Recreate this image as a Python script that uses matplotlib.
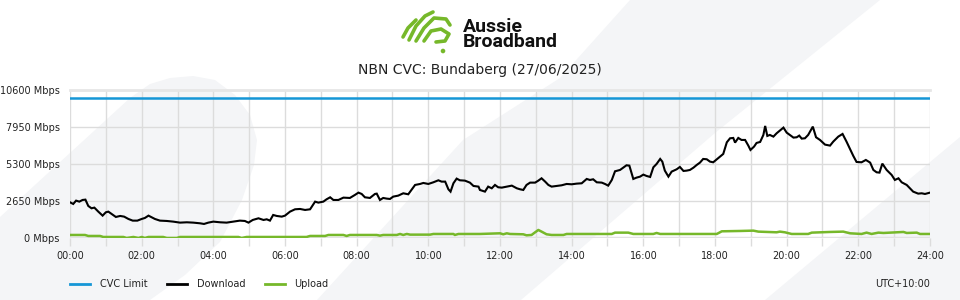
import matplotlib
matplotlib.use("Agg")
import matplotlib.pyplot as plt
from matplotlib.patches import Polygon, PathPatch, Circle
from matplotlib.path import Path
from matplotlib.transforms import Affine2D
from matplotlib.ticker import FixedLocator, FuncFormatter

# ---------------- data ----------------
title = "NBN CVC: Bundaberg (27/06/2025)"
cvc_limit = 10000
y_ticks = [0, 2650, 5300, 7950, 10600]
x_tick_hours = list(range(0, 25, 2))

dl_hours = [0.00, 0.09, 0.17, 0.26, 0.35, 0.43, 0.51, 0.60, 0.68, 0.79, 0.91, 1.00, 1.07, 1.16,
            1.28, 1.40, 1.51, 1.63, 1.75, 1.88, 2.00, 2.09, 2.19, 2.28, 2.37, 2.51, 2.70, 2.88,
            3.07, 3.26, 3.44, 3.63, 3.74, 3.86, 4.00, 4.19, 4.37, 4.56, 4.74, 4.88, 4.98, 5.10,
            5.26, 5.40, 5.49, 5.58, 5.67, 5.77, 5.91, 6.00, 6.14, 6.28, 6.42, 6.56, 6.70, 6.84,
            6.93, 7.07, 7.16, 7.26, 7.35, 7.49, 7.63, 7.81, 7.95, 8.05, 8.14, 8.23, 8.37, 8.51,
            8.56, 8.65, 8.74, 8.84, 8.93, 9.02, 9.16, 9.30, 9.44, 9.63, 9.77, 9.86, 10.00, 10.14,
            10.28, 10.37, 10.47, 10.56, 10.62, 10.70, 10.79, 10.88, 11.02, 11.16, 11.26, 11.40,
            11.44, 11.58, 11.67, 11.77, 11.86, 11.95, 12.05, 12.19, 12.33, 12.47, 12.56, 12.65,
            12.74, 12.84, 12.98, 13.07, 13.16, 13.26, 13.35, 13.44, 13.58, 13.72, 13.86, 14.00,
            14.14, 14.28, 14.42, 14.51, 14.60, 14.70, 14.84, 14.93, 15.02, 15.12, 15.21, 15.35,
            15.44, 15.53, 15.61, 15.72, 15.81, 15.91, 16.00, 16.09, 16.19, 16.28, 16.37, 16.47,
            16.53, 16.60, 16.70, 16.79, 16.93, 17.02, 17.12, 17.21, 17.30, 17.40, 17.49, 17.58,
            17.67, 17.77, 17.86, 17.95, 18.05, 18.14, 18.23, 18.33, 18.42, 18.51, 18.56, 18.65,
            18.74, 18.84, 18.93, 18.99, 19.09, 19.16, 19.26, 19.35, 19.40, 19.46, 19.53, 19.63,
            19.72, 19.81, 19.91, 20.00, 20.09, 20.19, 20.28, 20.35, 20.42, 20.51, 20.60, 20.73,
            20.82, 20.93, 21.07, 21.21, 21.30, 21.44, 21.56, 21.67, 21.77, 21.86, 21.95, 22.09,
            22.21, 22.33, 22.42, 22.51, 22.59, 22.67, 22.79, 22.93, 23.02, 23.12, 23.21, 23.35,
            23.44, 23.53, 23.67, 23.77, 23.86, 24.00]
dl_mbps = [2574, 2454, 2693, 2621, 2740, 2764, 2312, 2145, 2192, 1906, 1620, 1859, 1906, 1740,
           1525, 1597, 1549, 1382, 1263, 1263, 1382, 1454, 1620, 1501, 1382, 1263, 1239, 1192,
           1120, 1144, 1120, 1072, 1025, 1120, 1192, 1144, 1120, 1192, 1263, 1239, 1120, 1311,
           1430, 1311, 1358, 1263, 1668, 1597, 1549, 1620, 1906, 2073, 2097, 2026, 2073, 2621,
           2550, 2621, 2788, 2931, 2740, 2740, 2907, 2883, 3098, 3265, 3169, 2931, 2883, 3169,
           3193, 2740, 2883, 2836, 2812, 2979, 3050, 3217, 3146, 3813, 3884, 3956, 3884, 4003,
           4146, 4051, 4051, 3503, 3336, 3932, 4266, 4146, 4123, 3980, 3741, 3694,
           3455, 3336, 3694, 3574, 3813, 3646, 3622, 3694, 3765, 3574, 3503, 3455,
           3813, 3980, 3980, 4122, 4289, 4051, 3813, 3694, 3741, 3789, 3884, 3860,
           3908, 3932, 4242, 4170, 4218, 4003, 3980, 3884, 3765, 4170, 4790, 4885,
           5052, 5219, 5195, 4242, 4337, 4409, 4552, 4456, 4385, 5076, 5314, 5672,
           5481, 4838, 4409, 4766, 4933, 5100, 4814, 4838, 4885, 5052, 5243, 5410,
           5672, 5648, 5481, 5433, 5648, 5839, 6029, 6863, 7149, 7173, 6840, 7173,
           7030, 7030, 6625, 6315, 6554, 6816, 6887, 7388, 8031, 7316, 7388, 7268,
           7507, 7697, 7912, 7554, 7388, 7197, 7221, 7340, 7125, 7149, 7388, 7983,
           7221, 7030, 6697, 6625, 6911, 7268, 7459, 6911, 6363, 5886, 5457, 5433,
           5600, 5410, 4885, 4718, 4694, 5338, 4885, 4528, 4170, 4289, 4003, 3813,
           3574, 3336, 3193, 3217, 3169, 3265]

ul_hours = [0.00, 0.42, 0.51, 0.84, 0.93, 1.49, 1.58, 1.77, 1.91, 2.00, 2.09, 2.19, 2.60, 2.70,
            2.98, 3.07, 4.70, 4.79, 4.93, 6.60, 6.70, 7.12, 7.21, 7.63, 7.72, 7.81, 8.56, 8.65,
            8.74, 9.12, 9.21, 9.30, 9.40, 9.49, 10.05, 10.14, 10.70, 10.74, 10.84, 11.44, 12.00,
            12.09, 12.19, 12.28, 12.65, 12.74, 12.88, 12.98, 13.07, 13.16, 13.30, 13.44, 13.77,
            13.86, 15.12, 15.21, 15.58, 15.72, 16.28, 16.37, 16.47, 18.05, 18.19, 18.70, 19.07,
            19.21, 19.72, 19.81, 19.95, 20.14, 20.60, 20.70, 21.21, 21.58, 21.77, 22.09, 22.23,
            22.37, 22.56, 22.70, 23.26, 23.35, 23.63, 23.72, 24.00]
ul_mbps = [238, 238, 167, 167, 95, 95, 24, 95, 24, 95, 24, 95, 95, 24,
           24, 95, 95, 24, 95, 95, 167, 167, 238, 238, 167, 238, 238, 190,
           238, 238, 310, 238, 310, 262, 262, 310, 310, 238, 310, 310, 357,
           286, 357, 310, 286, 214, 238, 429, 596, 477, 286, 238, 238,
           310, 310, 405, 405, 310, 310, 381, 310, 310, 500, 524, 548,
           477, 429, 477, 429, 310, 310, 405, 453, 477, 357, 310, 405,
           310, 405, 381, 453, 381, 405, 310, 310]

series_labels = ["CVC Limit", "Download", "Upload"]
timezone_label = "UTC+10:00"
brand_text = "Aussie\nBroadband"

# ---------------- style ----------------
C_CVC = "#1596d6"
C_DL = "#000000"
C_UL = "#76b82a"
C_BG = "#f4f5f7"
C_GRID = "#dcdcdc"
C_TXT = "#222222"

W, H = 960, 300
fig = plt.figure(figsize=(W / 100, H / 100), dpi=100)
fig.patch.set_facecolor("white")
px = Affine2D().scale(1 / W, -1 / H).translate(0, 1) + fig.transFigure

# background decoration
shape1 = [(0, 300), (0, 217), (130, 98), (150, 84), (170, 78), (193, 76), (215, 80), (235, 95),
          (250, 115), (257, 140), (254, 165), (242, 200), (220, 242), (185, 275), (150, 300)]
shape2 = [(317, 300), (463, 140), (560, 78), (630, 0), (880, 0), (715, 133), (521, 300)]
shape3 = [(765, 300), (960, 137), (960, 300)]
for s in (shape1, shape2, shape3):
    fig.patches.append(Polygon(s, closed=True, transform=px, facecolor=C_BG,
                               edgecolor="none", zorder=-10))

# logo icon
strokes = [
    [(403, 37), (408, 28), (416, 20)],
    [(409, 40), (416, 26), (425, 16), (433, 12)],
    [(416, 41), (424, 28), (434, 18), (446, 19), (450, 25)],
    [(424, 41), (431, 31), (441, 29), (449, 34), (445, 41), (436, 42)],
]
for st in strokes:
    path = Path(st, [Path.MOVETO] + [Path.LINETO] * (len(st) - 1))
    fig.patches.append(PathPatch(path, transform=px, facecolor="none", edgecolor=C_UL,
                                 lw=2.6, capstyle="round", joinstyle="round", zorder=3))
fig.patches.append(Circle((443, 51), 2.3, transform=px, facecolor=C_UL, edgecolor="none", zorder=3))
fig.text(463 / W, 1 - 18.5 / H, brand_text, fontsize=14, fontweight="bold", family="Roboto",
         color="#111111", ha="left", va="top", linespacing=0.78)

fig.text(0.5, 1 - 70 / H, title, fontsize=10, color=C_TXT, ha="center", va="center")

# axes
ax = fig.add_axes([70 / W, 1 - 238.3 / H, 860 / W, 148.3 / H])
ax.set_zorder(1)
ax.set_facecolor("none")
ax.set_xlim(0, 24)
ax.set_ylim(0, 10600)
for sp in ax.spines.values():
    sp.set_visible(False)

ax.xaxis.set_major_locator(FixedLocator(range(0, 25)))
ax.xaxis.set_major_formatter(FuncFormatter(
    lambda v, p: f"{int(round(v)):02d}:00" if int(round(v)) in x_tick_hours else ""))
ax.yaxis.set_major_locator(FixedLocator(y_ticks))
ax.yaxis.set_major_formatter(FuncFormatter(lambda v, p: f"{int(v)} Mbps"))
ax.tick_params(axis="x", length=6, width=1, color=C_GRID, pad=3, labelsize=7, labelcolor=C_TXT)
ax.tick_params(axis="y", length=0, pad=7.5, labelsize=7, labelcolor=C_TXT)
ax.grid(True, color=C_GRID, lw=1.0, zorder=1)
ax.set_axisbelow(True)
ax.axhline(0, color="#e2e2e2", lw=2.5, zorder=1.2)
ax.axhline(10600, color="#e6e6e6", lw=2.0, zorder=1.2, clip_on=False)

l1 = ax.axhline(cvc_limit, color=C_CVC, lw=1.8, zorder=3, label=series_labels[0])
l2, = ax.plot(dl_hours, dl_mbps, color=C_DL, lw=1.5, zorder=4, label=series_labels[1],
              solid_joinstyle="miter")
l3, = ax.plot(ul_hours, ul_mbps, color=C_UL, lw=1.8, zorder=3.5, label=series_labels[2])

leg = fig.legend(handles=[l1, l2, l3], loc="center left",
                 bbox_to_anchor=(70 / W, 1 - 284 / H), ncol=3, frameon=False,
                 fontsize=7, handlelength=2.06, handletextpad=1.0, columnspacing=2.0,
                 borderpad=0, borderaxespad=0)
for t in leg.get_texts():
    t.set_color(C_TXT)
for h in leg.legend_handles:
    h.set_linewidth(2.0)

fig.text(930 / W, 1 - 284 / H, timezone_label, fontsize=7, color=C_TXT, ha="right", va="center")

fig.savefig("out.png", dpi=100, facecolor="white")
